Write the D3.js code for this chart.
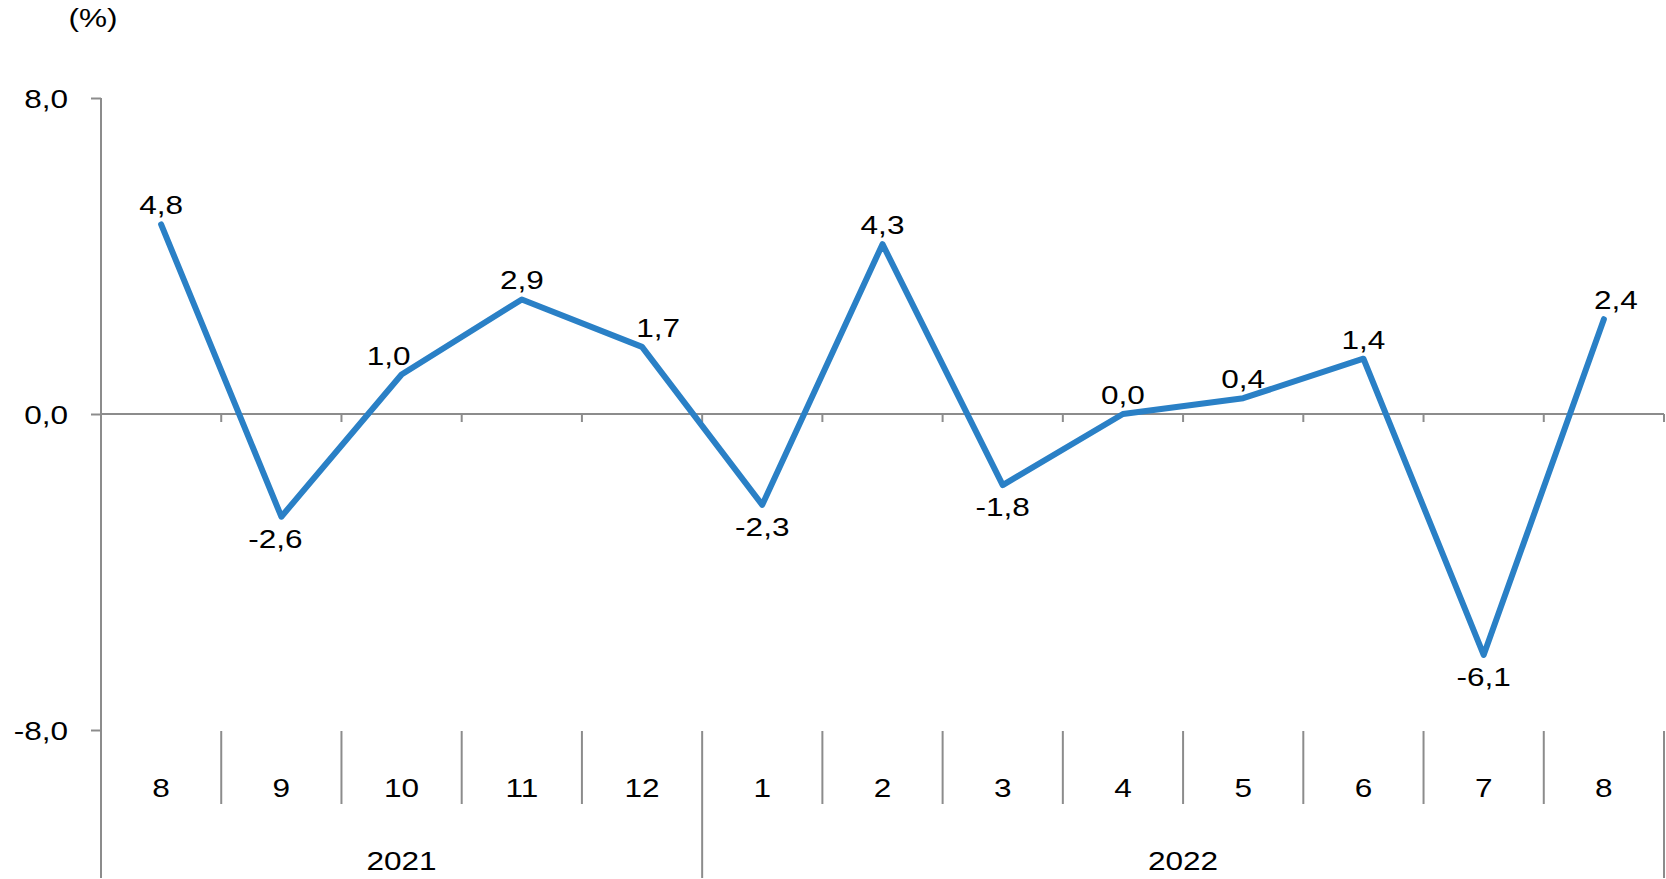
<!DOCTYPE html>
<html>
<head>
<meta charset="utf-8">
<script src="https://cdn.jsdelivr.net/npm/d3@7"></script>
<style>
  html, body { margin: 0; padding: 0; background: #fff; }
  svg { display: block; font-family: "Liberation Sans", Arial, sans-serif; }
</style>
</head>
<body>
<script>
const months = ["8", "9", "10", "11", "12", "1", "2", "3", "4", "5", "6", "7", "8"];
const values = [4.8, -2.6, 1.0, 2.9, 1.7, -2.3, 4.3, -1.8, 0.0, 0.4, 1.4, -6.1, 2.4];
const years = [
  { label: "2021", start: 0, end: 5 },
  { label: "2022", start: 5, end: 13 },
];
const yTicks = [-8, 0, 8];

// small horizontal nudges of the value labels, as placed in the original
const labelDx = [0, -6, -13, 0, 16, 0, 0, 0, 0, 0, 0, 0, 12];

const baseWidth = 1666,
  baseHeight = 879,
  axisColor = "#8c8c8c",
  lineColor = "#2a80c6",
  fontSize = 26.5,
  stretch = 1.19;

const fmt = (v) => v.toFixed(1).replace(".", ",");

const svg = d3
  .select("body")
  .append("svg")
  .attr("width", baseWidth)
  .attr("height", baseHeight);

const x = d3
  .scaleBand()
  .domain(d3.range(months.length))
  .range([101, 1664])
  .padding(0);

const y = d3.scaleLinear().domain([-8, 8]).range([730, 98]);

const bx = (i) => (i < months.length ? x(i) : x.range()[1]);

// text drawn a little wider than the font, like the original
function label(sel, px, py, anchor) {
  return sel
    .attr("x", 0)
    .attr("y", 0)
    .attr("transform", (d, i) => `translate(${px(d, i)},${py(d, i)}) scale(${stretch},1)`)
    .attr("text-anchor", anchor || "middle")
    .attr("font-size", fontSize)
    .attr("fill", "#000");
}

// unit label
label(svg.append("text").text("(%)"), () => 93, () => 27);

// y axis
const yAxis = svg
  .append("g")
  .attr("transform", "translate(101,0)")
  .call(d3.axisLeft(y).tickValues(yTicks).tickSize(10).tickFormat(fmt));
yAxis.select(".domain").remove();
yAxis.selectAll(".tick line").attr("stroke", axisColor).attr("stroke-width", 2);
label(yAxis.selectAll(".tick text").attr("dy", null), () => -33, () => 9, "end").attr(
  "font-family",
  "Liberation Sans, Arial, sans-serif"
);

svg
  .append("line")
  .attr("x1", 101)
  .attr("x2", 101)
  .attr("y1", y(8))
  .attr("y2", 878)
  .attr("stroke", axisColor)
  .attr("stroke-width", 2);

// zero line with small ticks at category boundaries
svg
  .append("line")
  .attr("x1", 101)
  .attr("x2", 1664)
  .attr("y1", y(0))
  .attr("y2", y(0))
  .attr("stroke", axisColor)
  .attr("stroke-width", 2);

svg
  .selectAll(".ztick")
  .data(d3.range(1, months.length + 1))
  .enter()
  .append("line")
  .attr("x1", bx)
  .attr("x2", bx)
  .attr("y1", y(0))
  .attr("y2", y(0) + 8)
  .attr("stroke", axisColor)
  .attr("stroke-width", 2);

// month separators
svg
  .selectAll(".msep")
  .data(d3.range(1, months.length + 1))
  .enter()
  .append("line")
  .attr("x1", bx)
  .attr("x2", bx)
  .attr("y1", 731)
  .attr("y2", (i) => (years.some((yr) => yr.end === i) ? 878 : 804))
  .attr("stroke", axisColor)
  .attr("stroke-width", 2);

// month labels
label(
  svg.selectAll(".mlabel").data(months).enter().append("text").text((d) => d),
  (d, i) => x(i) + x.bandwidth() / 2,
  () => 797
);

// year labels
label(
  svg.selectAll(".ylabel").data(years).enter().append("text").text((d) => d.label),
  (d) => (bx(d.start) + bx(d.end)) / 2,
  () => 870
);

// line
const line = d3
  .line()
  .x((d, i) => x(i) + x.bandwidth() / 2)
  .y((d) => y(d));

svg
  .append("path")
  .datum(values)
  .attr("d", line)
  .attr("fill", "none")
  .attr("stroke", lineColor)
  .attr("stroke-width", 6)
  .attr("stroke-linejoin", "round")
  .attr("stroke-linecap", "round");

// value labels
label(
  svg.selectAll(".vlabel").data(values).enter().append("text").text((d) => fmt(d)),
  (d, i) => x(i) + x.bandwidth() / 2 + labelDx[i],
  (d, i) => {
    const prev = i > 0 ? values[i - 1] : d - 1;
    const below = d < 0 && d < prev;
    return below ? y(d) + 31 : y(d) - 10;
  }
);
</script>
</body>
</html>
